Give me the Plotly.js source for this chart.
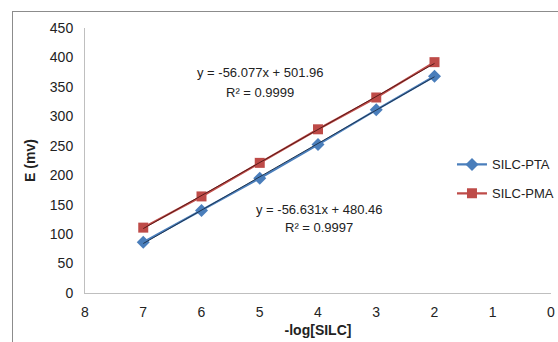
<!DOCTYPE html>
<html>
<head>
<meta charset="utf-8">
<script src="https://cdn.plot.ly/plotly-3.0.1.min.js"></script>
<style>
html,body{margin:0;padding:0;background:#fff;}
#frame{position:absolute;left:12px;top:11px;width:560px;height:360px;border:1px solid #8c8c8c;box-sizing:border-box;}
#chart{position:absolute;left:0;top:0;width:558px;height:342px;}
</style>
</head>
<body>
<div id="frame"></div>
<div id="chart"></div>
<script>
const xValues = [7, 6, 5, 4, 3, 2];
const ptaValues = [86, 140, 195, 252, 311, 368];
const pmaValues = [111, 164, 221, 278, 332, 392];
const trendX = [7, 2];
const ptaTrend = [84.0, 367.2];
const pmaTrend = [109.4, 389.8];
const xTicks = [8, 7, 6, 5, 4, 3, 2, 1, 0];
const yTicks = [0, 50, 100, 150, 200, 250, 300, 350, 400, 450];

const font = "Liberation Sans, Arial, sans-serif";
const traces = [
  {x: xValues, y: ptaValues, name: 'SILC-PTA', mode: 'lines+markers', legendgroup: 'pta',
   line: {color: '#4A7EBB', width: 2.25}, marker: {symbol: 'diamond', size: 10, color: '#4A7EBB'}},
  {x: xValues, y: pmaValues, name: 'SILC-PMA', mode: 'lines+markers', legendgroup: 'pma',
   line: {color: '#BE4B48', width: 2.25}, marker: {symbol: 'square', size: 10, color: '#BE4B48'}},
  {x: trendX, y: ptaTrend, mode: 'lines', showlegend: false, hoverinfo: 'skip', legendgroup: 'pta',
   line: {color: '#1f3550', width: 1}},
  {x: trendX, y: pmaTrend, mode: 'lines', showlegend: false, hoverinfo: 'skip', legendgroup: 'pma',
   line: {color: '#5a1a18', width: 1}}
];

const layout = {
  width: 558, height: 342,
  margin: {l: 85, r: 7, t: 28, b: 49, autoexpand: false},
  paper_bgcolor: 'rgba(0,0,0,0)', plot_bgcolor: 'rgba(0,0,0,0)',
  font: {family: font, size: 14, color: '#222'},
  showlegend: true,
  legend: {x: 0.81, y: 0.563, xref: 'container', yref: 'container', xanchor: 'left', yanchor: 'top',
           bgcolor: 'rgba(0,0,0,0)', font: {family: font, size: 13, color: '#222'},
           traceorder: 'grouped', tracegroupgap: 9, itemwidth: 30},
  xaxis: {range: [8, 0], tickvals: xTicks, ticktext: xTicks.map(String), automargin: false,
          showgrid: false, zeroline: false, showline: true, linecolor: '#bfbfbf', linewidth: 1,
          ticks: '', tickfont: {size: 14}, ticklabelstandoff: 6,
          title: {text: '-log[SILC]', font: {size: 14, family: font, weight: 'bold'}, standoff: 6}},
  yaxis: {range: [0, 450], tickvals: yTicks, showgrid: false, zeroline: false, automargin: false,
          showline: true, linecolor: '#bfbfbf', linewidth: 1, ticks: '', tickfont: {size: 14},
          ticklabelstandoff: 8,
          title: {text: 'E (mv)', font: {size: 14, family: font, weight: 'bold'}, standoff: 10}},
  annotations: [
    {x: 0.375, y: 375, xref: 'paper', yref: 'y', xanchor: 'center', text: 'y = -56.077x + 501.96', showarrow: false, font: {size: 13}},
    {x: 0.375, y: 341, xref: 'paper', yref: 'y', xanchor: 'center', text: 'R² = 0.9999', showarrow: false, font: {size: 13}},
    {x: 0.502, y: 142, xref: 'paper', yref: 'y', xanchor: 'center', text: 'y = -56.631x + 480.46', showarrow: false, font: {size: 13}},
    {x: 0.502, y: 111, xref: 'paper', yref: 'y', xanchor: 'center', text: 'R² = 0.9997', showarrow: false, font: {size: 13}}
  ]
};
Plotly.newPlot('chart', traces, layout, {displayModeBar: false, staticPlot: true});
</script>
</body>
</html>
